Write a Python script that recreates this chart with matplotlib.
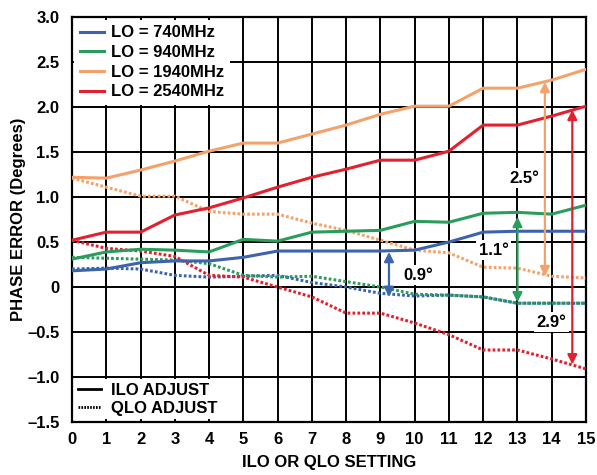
import numpy as np
import matplotlib.pyplot as plt
from matplotlib.lines import Line2D

plt.rcParams['font.family'] = ['Liberation Sans', 'DejaVu Sans']
plt.rcParams['font.weight'] = 'bold'

# ---- data (phase error in degrees) ----
setting = np.arange(16)

ilo_740  = [0.18, 0.20, 0.27, 0.29, 0.29, 0.33, 0.40, 0.40, 0.40, 0.40, 0.41, 0.50, 0.61, 0.62, 0.62, 0.62]
qlo_740  = [0.20, 0.21, 0.20, 0.13, 0.11, 0.12, 0.13, 0.05, 0.00, -0.07, -0.10, -0.09, -0.11, -0.18, -0.18, -0.18]
ilo_940  = [0.31, 0.39, 0.42, 0.41, 0.39, 0.53, 0.51, 0.61, 0.62, 0.63, 0.73, 0.72, 0.82, 0.83, 0.81, 0.91]
qlo_940  = [0.33, 0.32, 0.31, 0.30, 0.26, 0.13, 0.11, 0.12, 0.06, 0.00, -0.08, -0.09, -0.11, -0.18, -0.18, -0.18]
ilo_1940 = [1.22, 1.21, 1.30, 1.40, 1.51, 1.60, 1.60, 1.70, 1.80, 1.92, 2.01, 2.01, 2.21, 2.21, 2.30, 2.42]
qlo_1940 = [1.21, 1.11, 1.01, 1.01, 0.84, 0.81, 0.81, 0.71, 0.63, 0.52, 0.41, 0.38, 0.22, 0.21, 0.12, 0.10]
ilo_2540 = [0.52, 0.61, 0.61, 0.80, 0.88, 0.99, 1.11, 1.22, 1.31, 1.41, 1.41, 1.51, 1.80, 1.80, 1.90, 2.01]
qlo_2540 = [0.52, 0.43, 0.40, 0.34, 0.13, 0.11, 0.00, -0.11, -0.29, -0.29, -0.40, -0.53, -0.70, -0.70, -0.80, -0.91]

labels = ['LO = 740MHz', 'LO = 940MHz', 'LO = 1940MHz', 'LO = 2540MHz']
colors = ['#3d63ad', '#2a9d5c', '#f5a26a', '#e3202f']
ilo = [ilo_740, ilo_940, ilo_1940, ilo_2540]
qlo = [qlo_740, qlo_940, qlo_1940, qlo_2540]

# spread arrows: (x, y_top, y_bottom, label, label_x, label_y)
spreads = [
    (9.25, 0.39, -0.11, '0.9°', 10.1, 0.13),
    (13.0, 0.78, -0.17, '1.1°', 12.3, 0.41),
    (13.8, 2.28, 0.12, '2.5°', 13.2, 1.21),
    (14.6, 1.97, -0.86, '2.9°', 14.0, -0.39),
]

FS = 12

fig = plt.figure(figsize=(5.97, 4.75), dpi=100)
ax = fig.add_axes([0.1206, 0.1116, 0.861, 0.8524])

dotted = (0, (0.9, 0.7))
for c, yi, yq in zip(colors, ilo, qlo):
    ax.plot(setting, yq, color=c, lw=2.2, linestyle=dotted, solid_joinstyle='round', zorder=3)
    ax.plot(setting, yi, color=c, lw=2.2, solid_joinstyle='round', zorder=4)

for (x, yt, yb, txt, tx, ty), c in zip(spreads, colors):
    ax.annotate('', xy=(x, yt), xytext=(x, yb),
                arrowprops=dict(arrowstyle='<|-|>', color=c, lw=1.6,
                                mutation_scale=14, shrinkA=0, shrinkB=0), zorder=5)
    ax.text(tx, ty, txt, fontsize=FS, fontweight='bold', ha='center', va='center',
            bbox=dict(boxstyle='square,pad=0.15', fc='white', ec='none'), zorder=6)

ax.set_xlim(0, 15)
ax.set_ylim(-1.5, 3.0)
ax.set_xticks(range(16))
yt = np.arange(-1.5, 3.01, 0.5)
ax.set_yticks(yt)
ax.set_yticklabels(['0' if abs(v) < 1e-9 else f'{v:.1f}'.replace('-', '–') for v in yt])
ax.tick_params(axis='y', length=0, labelsize=FS, pad=9)
ax.tick_params(axis='x', length=0, labelsize=FS, pad=7)
for lab in ax.get_xticklabels() + ax.get_yticklabels():
    lab.set_fontweight('bold')
ax.grid(True, color='black', lw=1.4)
ax.set_axisbelow(True)
for s in ax.spines.values():
    s.set_linewidth(1.6)

ax.set_xlabel('ILO OR QLO SETTING', fontsize=FS, fontweight='bold', labelpad=6)
ax.set_ylabel('PHASE ERROR (Degrees)', fontsize=FS, fontweight='bold', labelpad=1)

handles = [Line2D([], [], color=c, lw=2.2) for c in colors]
leg1 = ax.legend(handles, labels, loc='upper left', bbox_to_anchor=(0.0, 1.0),
                 frameon=True, facecolor='white', edgecolor='none', framealpha=1,
                 fancybox=False, fontsize=FS, handlelength=1.4, handletextpad=0.45,
                 labelspacing=0.28, borderpad=0.35, borderaxespad=0.15)
for t in leg1.get_texts():
    t.set_fontweight('bold')
ax.add_artist(leg1)

style_h = [Line2D([], [], color='black', lw=2.0),
           Line2D([], [], color='black', lw=2.0, linestyle=(0, (0.6, 0.45)))]
leg2 = ax.legend(style_h, ['ILO ADJUST', 'QLO ADJUST'], loc='lower left',
                 bbox_to_anchor=(0.0, 0.0), frameon=True, facecolor='white',
                 edgecolor='none', framealpha=1, fancybox=False, fontsize=FS,
                 handlelength=1.4, handletextpad=0.6, labelspacing=0.2,
                 borderpad=0.2, borderaxespad=0.15)
for t in leg2.get_texts():
    t.set_fontweight('bold')

fig.savefig('out.png', dpi=100)
